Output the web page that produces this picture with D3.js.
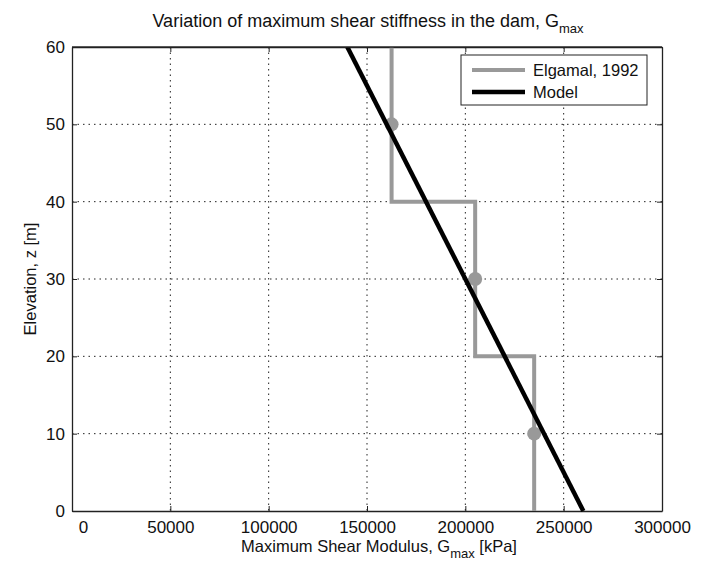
<!DOCTYPE html>
<html lang="en">
<head>
    <meta charset="UTF-8">
    <title>Gmax in the dam</title>
    <script src="https://d3js.org/d3.v7.min.js"></script>
    <style>
        body { margin: 0; background: #fff; }
        text { font-family: "Liberation Sans", Arial, sans-serif; fill: #111; }
        .grid line { stroke: #222; stroke-width: 1; stroke-dasharray: 1.5,4; }
    </style>
</head>
<body>
    <script>
        // Elgamal (1992) step profile: layer boundaries and Gmax per layer
        const elgamalZ = [60, 40, 40, 20, 20, 0];
        const elgamalG = [162500, 162500, 205000, 205000, 235000, 235000];
        // measurement markers (mid-layer)
        const markerZ = [50, 30, 10];
        const markerG = [162500, 205000, 235000];
        // linear model
        const modelZ = [60, 0];
        const modelG = [140000, 260000];

        const xTicks = [0, 50000, 100000, 150000, 200000, 250000, 300000];
        const yTicks = [0, 10, 20, 30, 40, 50, 60];

        const width = 710, height = 564;
        const margin = { top: 47, right: 48, bottom: 53, left: 72 };
        const w = width - margin.left - margin.right,
              h = height - margin.top - margin.bottom;

        const svg = d3.select("body").append("svg")
            .attr("width", width)
            .attr("height", height);

        const g = svg.append("g")
            .attr("transform", "translate(" + margin.left + "," + margin.top + ")");

        const x = d3.scaleLinear().domain([0, 300000]).range([0, w]);
        const y = d3.scaleLinear().domain([0, 60]).range([h, 0]);

        // grid
        const grid = g.append("g").attr("class", "grid");
        grid.selectAll(".vx")
            .data(xTicks.slice(1, -1))
            .enter().append("line")
            .attr("x1", d => x(d)).attr("x2", d => x(d))
            .attr("y1", 0).attr("y2", h);
        grid.selectAll(".hy")
            .data(yTicks.slice(1, -1))
            .enter().append("line")
            .attr("x1", 0).attr("x2", w)
            .attr("y1", d => y(d)).attr("y2", d => y(d));

        // axes, ticks pointing inward like matlab
        const xAxis = g.append("g")
            .attr("transform", "translate(0," + h + ")")
            .call(d3.axisBottom(x).tickValues(xTicks).tickSizeInner(-5).tickSizeOuter(0).tickPadding(10).tickFormat(d3.format("d")));
        const yAxis = g.append("g")
            .call(d3.axisLeft(y).tickValues(yTicks).tickSizeInner(-5).tickSizeOuter(0).tickPadding(7));
        g.append("g")
            .call(d3.axisTop(x).tickValues(xTicks).tickSizeInner(-5).tickSizeOuter(0).tickFormat(""));
        g.append("g")
            .attr("transform", "translate(" + w + ",0)")
            .call(d3.axisRight(y).tickValues(yTicks).tickSizeInner(-5).tickSizeOuter(0).tickFormat(""));

        g.selectAll(".domain").attr("stroke", "#222").attr("stroke-width", 1.3);
        g.selectAll(".tick line").attr("stroke", "#222");
        g.selectAll(".tick text").style("font-size", "17px").attr("fill", "#111");
        // matlab nudges the zero label right
        xAxis.selectAll(".tick text").filter(d => d === 0).attr("dx", 11);

        // Elgamal step line
        const line = d3.line().x(d => x(d[0])).y(d => y(d[1]));
        g.append("path")
            .datum(elgamalG.map((v, i) => [v, elgamalZ[i]]))
            .attr("d", line)
            .attr("fill", "none")
            .attr("stroke", "#999")
            .attr("stroke-width", 4);

        g.selectAll(".marker")
            .data(markerG.map((v, i) => [v, markerZ[i]]))
            .enter().append("circle")
            .attr("cx", d => x(d[0]))
            .attr("cy", d => y(d[1]))
            .attr("r", 7)
            .attr("fill", "#999");

        // model line
        g.append("path")
            .datum(modelG.map((v, i) => [v, modelZ[i]]))
            .attr("d", line)
            .attr("fill", "none")
            .attr("stroke", "#000")
            .attr("stroke-width", 4.5);

        // clip overshoot of thick lines at the frame
        g.append("rect")
            .attr("x", 0).attr("y", -20).attr("width", w).attr("height", 20)
            .attr("fill", "#fff");
        g.append("line")
            .attr("x1", 0).attr("x2", w).attr("y1", 0).attr("y2", 0)
            .attr("stroke", "#222").attr("stroke-width", 1.3);

        // legend
        const lg = svg.append("g").attr("transform", "translate(461,55)");
        lg.append("rect")
            .attr("width", 186).attr("height", 50)
            .attr("fill", "#fff").attr("stroke", "#222").attr("stroke-width", 1);
        const legendItems = [["Elgamal, 1992", "#999", 4], ["Model", "#000", 4.5]];
        legendItems.forEach((it, i) => {
            const yy = 15 + i * 22;
            lg.append("line")
                .attr("x1", 11).attr("x2", 64).attr("y1", yy).attr("y2", yy)
                .attr("stroke", it[1]).attr("stroke-width", it[2]);
            lg.append("text")
                .attr("x", 72).attr("y", yy + 6)
                .style("font-size", "16.5px")
                .text(it[0]);
        });

        // title
        const title = svg.append("text")
            .attr("x", 368).attr("y", 27)
            .attr("text-anchor", "middle")
            .style("font-size", "18px");
        title.append("tspan").text("Variation of maximum shear stiffness in the dam, G");
        title.append("tspan").attr("dy", 6).style("font-size", "13px").text("max");

        // x label
        const xl = svg.append("text")
            .attr("x", 379).attr("y", 552)
            .attr("text-anchor", "middle")
            .style("font-size", "16.5px");
        xl.append("tspan").text("Maximum Shear Modulus, G");
        xl.append("tspan").attr("dy", 6).style("font-size", "13px").text("max");
        xl.append("tspan").attr("dy", -6).text(" [kPa]");

        // y label
        svg.append("text")
            .attr("transform", "translate(36," + (margin.top + h / 2) + ") rotate(-90)")
            .attr("text-anchor", "middle")
            .style("font-size", "16.5px")
            .text("Elevation, z [m]");
    </script>
</body>
</html>
